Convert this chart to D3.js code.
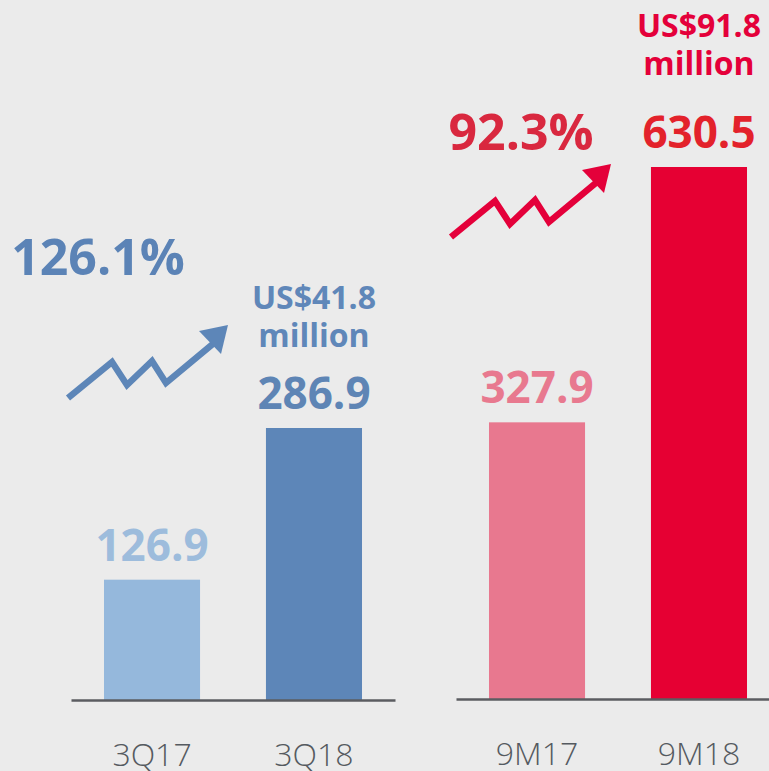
<!DOCTYPE html>
<html>
<head>
<meta charset="utf-8">
<script src="https://cdn.jsdelivr.net/npm/d3@7"></script>
<style>
    body { margin: 0; background: #ebebeb; overflow: hidden; }
    svg { display: block; font-family: "Open Sans", "Segoe UI", sans-serif; }
    .axis .domain { stroke: #5b5c61; stroke-width: 2.5; }
    .axis text { font-size: 32px; font-weight: 300; fill: #555a60; font-family: "Open Sans", sans-serif; }
</style>
</head>
<body>
<div id="chart"></div>
<script>
// chart data
const quarterLabels = ["3Q17", "3Q18"];
const quarterValues = [126.9, 286.9];
const nineMonthLabels = ["9M17", "9M18"];
const nineMonthValues = [327.9, 630.5];
const growthLabels = ["126.1%", "92.3%"];
const usdLabels = ["US$41.8", "US$91.8"];
const usdUnit = "million";

// zig-zag arrow icon (local shape)
const arrowLine = [[0, 0], [44, -36], [59, -13], [84, -37], [98, -15], [146, -55]];
const arrowHead = [[131, -67], [160, -73], [153, -44]];

class BarGroup {

    constructor(svg, labels, values, opts) {
        this.svg = svg;
        this.labels = labels;
        this.values = values;
        this.opts = opts;

        this.initVis();
    }

    initVis() {
        let vis = this;
        let o = vis.opts;

        vis.g = vis.svg.append("g");

        // scales
        vis.x = d3.scaleBand()
            .domain(vis.labels)
            .range(o.xRange)
            .paddingInner(0.407)
            .paddingOuter(0.2037);

        vis.y = d3.scaleLinear()
            .domain([0, d3.max(vis.values)])
            .range([o.baseline, o.topY]);

        vis.xAxis = d3.axisBottom(vis.x)
            .tickSize(0)
            .tickSizeOuter(0)
            .tickPadding(43);

        vis.updateVis();
    }

    updateVis() {
        let vis = this;
        let o = vis.opts;
        let data = vis.labels.map((d, i) => ({ label: d, value: vis.values[i], i: i }));

        // bars
        vis.g.selectAll("rect.bar")
            .data(data)
            .join("rect")
            .attr("class", "bar")
            .attr("x", d => vis.x(d.label))
            .attr("y", d => vis.y(d.value))
            .attr("width", vis.x.bandwidth())
            .attr("height", d => o.baseline - vis.y(d.value))
            .attr("fill", d => o.barColors[d.i]);

        // value labels
        vis.g.selectAll("text.value")
            .data(data)
            .join("text")
            .attr("class", "value")
            .attr("x", d => vis.x(d.label) + vis.x.bandwidth() / 2)
            .attr("y", d => vis.y(d.value) - 19)
            .attr("text-anchor", "middle")
            .attr("font-size", 44)
            .attr("font-weight", 700)
            .attr("fill", d => o.valueColors[d.i])
            .text(d => d.value.toFixed(1));

        // axis (baseline + category labels)
        vis.g.append("g")
            .attr("class", "axis")
            .attr("transform", "translate(0," + o.baseline + ")")
            .call(vis.xAxis);

        // US$ note above the latest bar
        let last = data[data.length - 1];
        let cx = vis.x(last.label) + vis.x.bandwidth() / 2;
        let ly = vis.y(last.value) - 19;
        let note = vis.g.append("g")
            .attr("text-anchor", "middle")
            .attr("font-size", 32)
            .attr("font-weight", 700)
            .attr("fill", o.noteColor);
        note.append("text")
            .attr("x", cx)
            .attr("y", ly - o.noteGap - 38)
            .text(o.usd);
        note.append("text")
            .attr("x", cx)
            .attr("y", ly - o.noteGap)
            .text(usdUnit);

        // growth percentage
        vis.g.append("text")
            .attr("x", o.growthPos[0])
            .attr("y", o.growthPos[1])
            .attr("text-anchor", "middle")
            .attr("font-size", 50)
            .attr("font-weight", 700)
            .attr("fill", o.growthColor)
            .text(o.growth);

        // arrow icon
        let arrow = vis.g.append("g")
            .attr("transform", "translate(" + o.arrowPos[0] + "," + o.arrowPos[1] + ")");
        arrow.append("path")
            .attr("d", d3.line()(arrowLine))
            .attr("fill", "none")
            .attr("stroke", o.arrowColor)
            .attr("stroke-width", 6.5)
            .attr("stroke-linejoin", "miter");
        arrow.append("path")
            .attr("d", d3.line()(arrowHead) + "Z")
            .attr("fill", o.arrowColor);
    }
}

const width = 769, height = 771;

const svg = d3.select("#chart").append("svg")
    .attr("width", width)
    .attr("height", height);

svg.append("rect")
    .attr("width", width)
    .attr("height", height)
    .attr("fill", "#ebebeb");

new BarGroup(svg, quarterLabels, quarterValues, {
    xRange: [71, 395],
    baseline: 700,
    topY: 428,
    barColors: ["#95b8dc", "#5d86b8"],
    valueColors: ["#9dbcdc", "#5e85b5"],
    noteColor: "#5f87b9",
    noteGap: 62,
    usd: usdLabels[0],
    growth: growthLabels[0],
    growthPos: [98, 275],
    growthColor: "#5b83b6",
    arrowPos: [68, 398],
    arrowColor: "#5d86b8"
});

new BarGroup(svg, nineMonthLabels, nineMonthValues, {
    xRange: [456, 780],
    baseline: 699,
    topY: 167,
    barColors: ["#e8788f", "#e60033"],
    valueColors: ["#e8798f", "#e3222b"],
    noteColor: "#e4003a",
    noteGap: 73,
    usd: usdLabels[1],
    growth: growthLabels[1],
    growthPos: [521, 150],
    growthColor: "#d9283f",
    arrowPos: [451, 237],
    arrowColor: "#e4003a"
});
</script>
</body>
</html>
